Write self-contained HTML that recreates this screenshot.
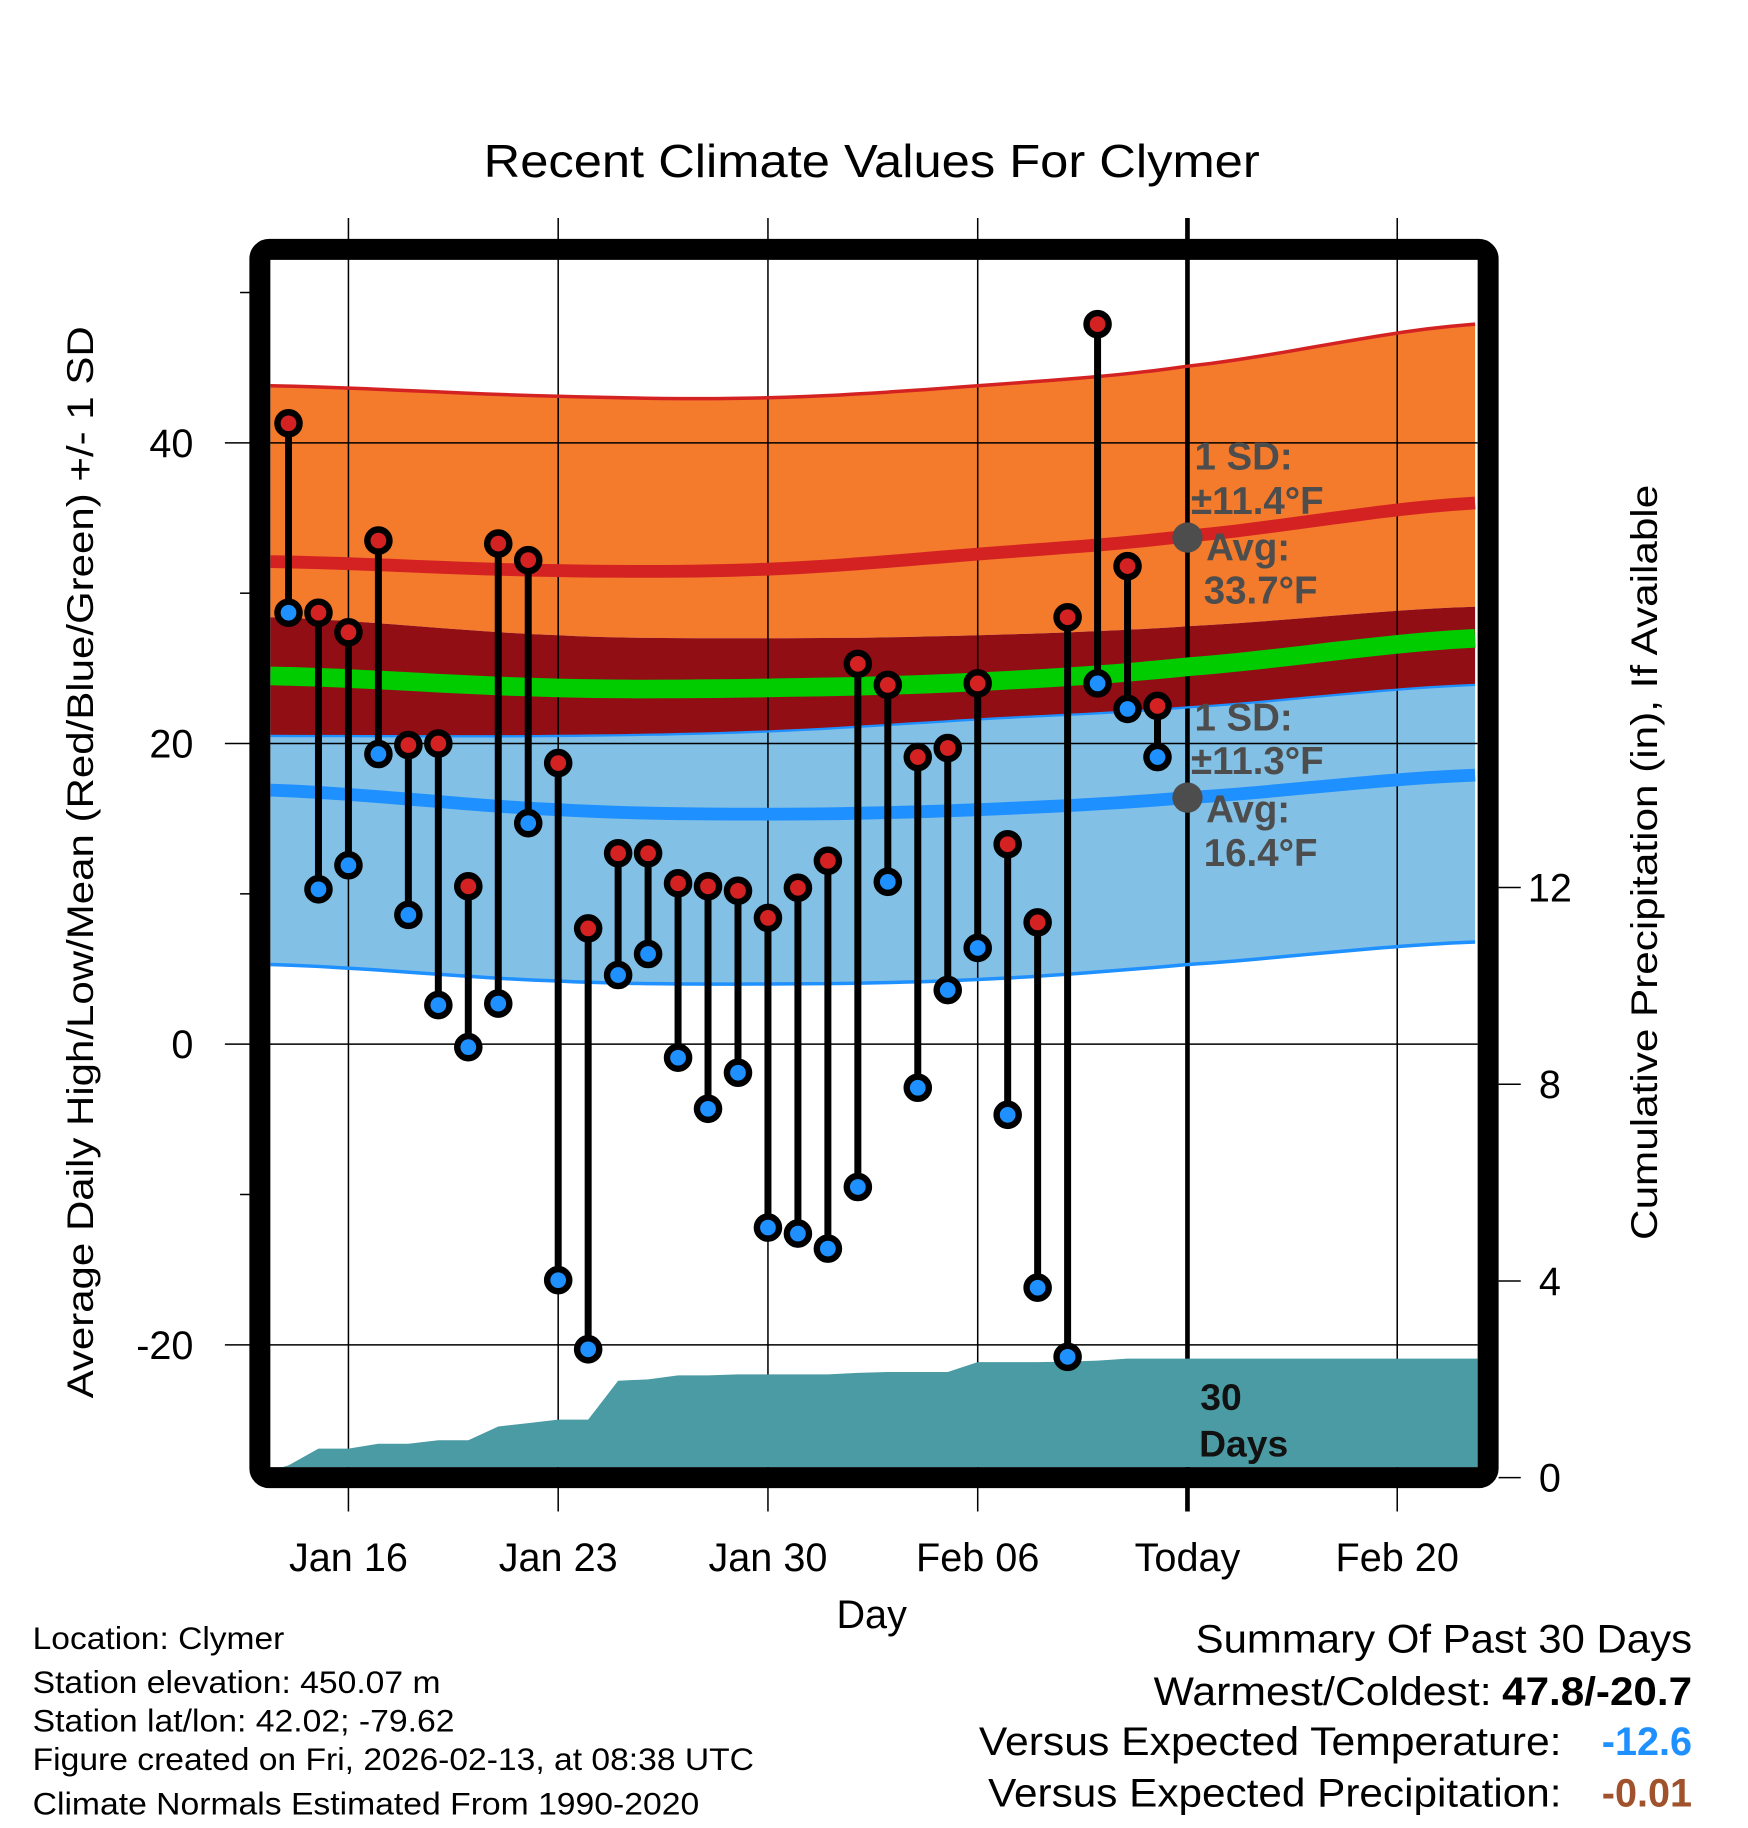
<!DOCTYPE html>
<html><head><meta charset="utf-8"><style>
html,body{margin:0;padding:0;background:#fff}
svg{display:block}
text{font-family:"Liberation Sans",Arial,sans-serif}
</style></head><body>
<svg id="chart" width="1748" height="1828" viewBox="0 0 1500 1568.6" xmlns="http://www.w3.org/2000/svg">
<defs><clipPath id="plotclip"><rect x="232" y="223" width="1036" height="1036"/></clipPath></defs>
<rect x="0" y="0" width="1500" height="1568.6" fill="#fff"/>
<g id="bands" clip-path="url(#plotclip)"></g>
<g id="grid"></g>
<g id="lines" clip-path="url(#plotclip)"></g>
<g id="precip" clip-path="url(#plotclip)"></g>
<g id="marks"></g>
<g id="annot"></g>
<rect x="223" y="214" width="1054" height="1054" rx="8" fill="none" stroke="#000" stroke-width="18"/>
<g id="axes"></g>
<text x="748" y="152" font-size="40" text-anchor="middle" textLength="666" lengthAdjust="spacingAndGlyphs">Recent Climate Values For Clymer</text>
<text transform="translate(80,740) rotate(-90)" font-size="32" text-anchor="middle" textLength="920" lengthAdjust="spacingAndGlyphs">Average Daily High/Low/Mean (Red/Blue/Green) +/- 1 SD</text>
<text transform="translate(1422,740) rotate(-90)" font-size="32" text-anchor="middle" textLength="648" lengthAdjust="spacingAndGlyphs">Cumulative Precipitation (in), If Available</text>
<text x="748" y="1397" font-size="34" text-anchor="middle">Day</text>
<g font-size="27">
<text x="28" y="1415" textLength="216" lengthAdjust="spacingAndGlyphs">Location: Clymer</text>
<text x="28" y="1453" textLength="350" lengthAdjust="spacingAndGlyphs">Station elevation: 450.07 m</text>
<text x="28" y="1486" textLength="362" lengthAdjust="spacingAndGlyphs">Station lat/lon: 42.02; -79.62</text>
<text x="28" y="1519" textLength="619" lengthAdjust="spacingAndGlyphs">Figure created on Fri, 2026-02-13, at 08:38 UTC</text>
<text x="28" y="1557" textLength="572" lengthAdjust="spacingAndGlyphs">Climate Normals Estimated From 1990-2020</text>
</g>
<g font-size="34">
<text x="1452" y="1418" text-anchor="end" textLength="426" lengthAdjust="spacingAndGlyphs">Summary Of Past 30 Days</text>
<text x="1280" y="1463" text-anchor="end" textLength="290" lengthAdjust="spacingAndGlyphs">Warmest/Coldest:</text>
<text x="1452" y="1463" text-anchor="end" font-weight="bold" textLength="163" lengthAdjust="spacingAndGlyphs">47.8/-20.7</text>
<text x="1340" y="1506" text-anchor="end" textLength="500" lengthAdjust="spacingAndGlyphs">Versus Expected Temperature:</text>
<text x="1452" y="1506" text-anchor="end" font-weight="bold" fill="#1e90ff">-12.6</text>
<text x="1340" y="1550" text-anchor="end" textLength="492" lengthAdjust="spacingAndGlyphs">Versus Expected Precipitation:</text>
<text x="1452" y="1550" text-anchor="end" font-weight="bold" fill="#a0522d">-0.01</text>
</g>
</svg>
<script>
// day 0 = Jan 16
const obsDays = [-2,-1,0,1,2,3,4,5,6,7,8,9,10,11,12,13,14,15,16,17,18,19,20,21,22,23,24,25,26,27];
const highs = [41.3,28.7,27.4,33.5,19.9,20.0,10.5,33.3,32.2,18.7,7.7,12.7,12.7,10.7,10.5,10.2,8.4,10.4,12.2,25.3,23.9,19.1,19.7,24.0,13.3,8.1,28.4,47.9,31.8,22.5];
const lows = [28.7,10.3,11.9,19.3,8.6,2.6,-0.2,2.7,14.7,-15.7,-20.3,4.6,6.0,-0.9,-4.3,-1.9,-12.2,-12.6,-13.6,-9.5,10.8,-2.9,3.6,6.4,-4.7,-16.2,-20.8,24.0,22.3,19.1];
const precipCum = [0.25,0.59,0.59,0.69,0.69,0.76,0.76,1.04,1.11,1.18,1.18,1.97,2.0,2.08,2.08,2.1,2.1,2.1,2.1,2.13,2.15,2.15,2.15,2.35,2.35,2.35,2.36,2.38,2.42,2.42];
const normDays = [-2.6,7,14,21,28,37.6];
const highPlusSD = [43.8,43.1,43.0,43.8,45.1,47.9];
const highAvg = [32.1,31.5,31.6,32.6,33.8,36.0];
const highMinusSD = [28.4,27.2,27.0,27.2,27.8,29.1];
const meanAvg = [24.5,23.7,23.7,24.1,25.1,27.0];
const lowPlusSD = [20.5,20.5,20.8,21.6,22.4,23.9];
const lowAvg = [16.9,15.6,15.3,15.6,16.4,17.9];
const lowMinusSD = [5.3,4.2,4.0,4.3,5.3,6.8];
const xTickDays = [0,7,14,21,28,35];
const xTickLabels = ["Jan 16","Jan 23","Jan 30","Feb 06","Today","Feb 20"];
const yTicks = [-20,0,20,40];
const yMinor = [-10,10,30,50];
const precipTicks = [0,4,8,12];

const NS="http://www.w3.org/2000/svg";
const X = d => 299 + d*25.714;
const Y = v => 896 - v*12.9;
const P = p => 1268 - p*42.2;
function mk(tag, attrs, parent){const e=document.createElementNS(NS,tag);for(const k in attrs)e.setAttribute(k,attrs[k]);parent.appendChild(e);return e;}
const g = id => document.getElementById(id);

// smooth sampling (Catmull-Rom) of normal curves
function smooth(vals){
  const out=[];
  const n=normDays.length;
  for(let i=0;i<n-1;i++){
    const p0=vals[Math.max(i-1,0)],p1=vals[i],p2=vals[i+1],p3=vals[Math.min(i+2,n-1)];
    const d1=normDays[i],d2=normDays[i+1];
    for(let s=0;s<12;s++){
      const t=s/12;
      const v=0.5*((2*p1)+(-p0+p2)*t+(2*p0-5*p1+4*p2-p3)*t*t+(-p0+3*p1-3*p2+p3)*t*t*t);
      out.push([X(d1+(d2-d1)*t),Y(v)]);
    }
  }
  out.push([X(normDays[n-1]),Y(vals[n-1])]);
  return out;
}

// bands
function band(top, bot, fill, name){
  const a = smooth(top), b = smooth(bot).reverse();
  const pts = a.concat(b).map(p=>p[0].toFixed(1)+','+p[1].toFixed(1));
  const e = mk('polygon',{points:pts.join(' '),fill:fill},g('bands'));
  
  
}
band(highPlusSD, highMinusSD, '#f47a2c', 'high-sd-band');
band(highMinusSD, lowPlusSD, '#920e15', 'mean-band');
band(lowPlusSD, lowMinusSD, '#82c0e6', 'low-sd-band');

// grid
xTickDays.forEach((d,i)=>{
  const x = X(d);
  const today = xTickLabels[i]==="Today";
  const l = mk('line',{x1:x,x2:x,y1:187,y2:1297,stroke:'#000','stroke-width':today?4:1.3},g('grid'));
  
  
  const t = mk('text',{x:x,y:1348,'font-size':34,'text-anchor':'middle'},g('axes'));
  t.textContent = xTickLabels[i];
  
  
});
yTicks.forEach(v=>{
  const y = Y(v);
  const l = mk('line',{x1:193,x2:1268,y1:y,y2:y,stroke:'#000','stroke-width':1.3},g('grid'));
  
  
  const t = mk('text',{x:166,y:y+12,'font-size':34,'text-anchor':'end'},g('axes'));
  t.textContent = v;
  
  
});
yMinor.forEach(v=>{
  const l = mk('line',{x1:206,x2:215,y1:Y(v),y2:Y(v),stroke:'#000','stroke-width':1.3},g('axes'));
  
  
});
precipTicks.forEach(p=>{
  const y = P(p);
  const l = mk('line',{x1:1286,x2:1305,y1:y,y2:y,stroke:'#000','stroke-width':1.3},g('axes'));
  
  
  const t = mk('text',{x:1330,y:y+12,'font-size':34,'text-anchor':'middle'},g('axes'));
  t.textContent = p;
  
  
});

// lines
function line(vals, color, w, name){
  const e = mk('polyline',{points:smooth(vals).map(p=>p[0].toFixed(1)+','+p[1].toFixed(1)).join(' '),fill:'none',stroke:color,'stroke-width':w},g('lines'));
  
  
}
line(highPlusSD,'#d42222',3,'high-plus-sd-line');
line(highAvg,'#d42222',11,'high-avg-line');
line(lowPlusSD,'#1e90ff',2,'low-plus-sd-line');
line(meanAvg,'#00cc00',16,'mean-avg-line');
line(lowAvg,'#1e90ff',11,'low-avg-line');
line(lowMinusSD,'#1e90ff',3,'low-minus-sd-line');

// precip area
(function(){
  let pts = [X(-2.6)+','+1262];
  obsDays.forEach((d,i)=>pts.push(X(d)+','+P(precipCum[i])));
  pts.push(1268+','+P(precipCum[precipCum.length-1]));
  pts.push(1268+','+1262);
  const e = mk('polygon',{points:pts.join(' '),fill:'#4a9ba3'},g('precip'));
  
  
})();

// stems & points
obsDays.forEach((d,i)=>{
  const x = X(d);
  const s = mk('line',{x1:x,x2:x,y1:Y(highs[i]),y2:Y(lows[i]),stroke:'#000','stroke-width':6},g('marks'));
  
  
});
obsDays.forEach((d,i)=>{
  const x = X(d);
  const h = mk('circle',{cx:x,cy:Y(highs[i]),r:9.5,fill:'#d42222',stroke:'#000','stroke-width':5.5},g('marks'));
  
  
  const l = mk('circle',{cx:x,cy:Y(lows[i]),r:9.5,fill:'#1e90ff',stroke:'#000','stroke-width':5.5},g('marks'));
  
  
});

// annotations
const A = g('annot');
const c1 = mk('circle',{cx:X(28),cy:Y(33.7),r:13,fill:'#4d4d4d'},A);


const c2 = mk('circle',{cx:X(28),cy:Y(16.4),r:13,fill:'#4d4d4d'},A);


const ann = [
 [1025,403,'1 SD:'],[1022,441,'±11.4°F'],[1035,481,'Avg:'],[1033,518,'33.7°F'],
 [1025,627,'1 SD:'],[1022,664,'±11.3°F'],[1035,706,'Avg:'],[1033,743,'16.4°F']
];
ann.forEach(a=>{
  const t = mk('text',{x:a[0],y:a[1],'font-size':33,'font-weight':'bold',fill:'#4d4d4d'},A);
  t.textContent = a[2];
  
  
});
[[1030,1210,'30'],[1029,1250,'Days']].forEach(a=>{
  const t = mk('text',{x:a[0],y:a[1],'font-size':32,'font-weight':'bold',fill:'#111'},A);
  t.textContent = a[2];
  
  
});
</script>
</body></html>
